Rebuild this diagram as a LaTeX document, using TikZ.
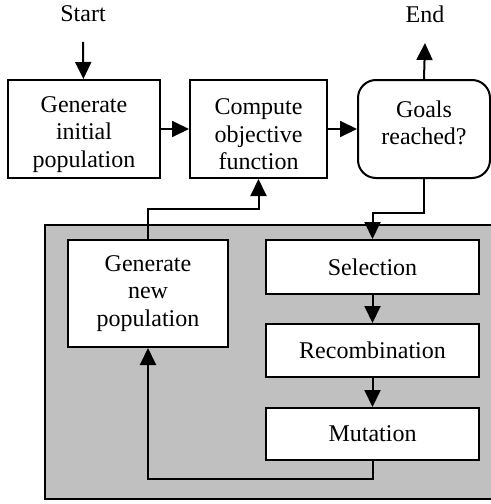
\documentclass[tikz,border=0pt]{standalone}
\usepackage{fontspec}
\setmainfont{Liberation Serif}
\usetikzlibrary{arrows.meta}
\usetikzlibrary{positioning}
\definecolor{panelgray}{RGB}{192,192,192}
\tikzset{
   block/.style={draw=black, line width=1pt, fill=white, align=center,
      inner sep=0pt, font=\fontsize{12}{13.75}\selectfont},
   goalblock/.style={block, rounded corners=9pt},
   boxtext/.style={align=center, inner sep=0pt,
      font=\fontsize{12}{13.75}\selectfont},
   flow/.style={draw=black, line width=1pt,
      -{Triangle[length=8.5pt,width=8pt]}},
   caption/.style={font=\fontsize{12}{13.75}\selectfont, inner sep=0pt},
    }
\begin{document}
\begin{tikzpicture}[x=0.5pt,y=-0.5pt]
        \useasboundingbox (0,0) rectangle (491,504);
        % gray panel
        \fill[panelgray, draw=black, line width=1pt] (45,225) rectangle (495,499);
        % top row
        \node[caption] (start) at (83,14) {Start};
        \node[caption] (end) at (425,14) {End};
        \coordinate (sin) at (83,42);
        \coordinate (eout) at (425,43);
        \node[block, minimum width=76pt, minimum height=49pt,
            label={[name=initl, boxtext, yshift=-2.75pt]center:{Generate\\initial\\population}}]
            (init) at (84,129) {};
        \node[block, minimum width=68.5pt, minimum height=49pt,
            label={[name=compl, boxtext, yshift=-2.75pt]center:{Compute\\objective\\function}}]
            (comp) at (258.5,129) {};
        \node[goalblock, minimum width=66pt, minimum height=49pt,
            label={[name=goall, boxtext, yshift=3pt]center:{Goals\\reached?}}]
            (goal) at (424,129) {};
        % inner loop
        \node[block, minimum width=80pt, minimum height=53.5pt] (newpop) at (148,293.5)
            {Generate\\new\\population};
        \node[block, minimum width=106.5pt, minimum height=27pt] (sel) at (372.5,267)
            {Selection};
        \node[block, minimum width=106.5pt, minimum height=26.5pt] (rec) at (372.5,350.5)
            {Recombination};
        \node[block, minimum width=106.5pt, minimum height=26pt] (mut) at (372.5,434)
            {Mutation};
        % connectors
        \draw[flow] (sin) -- (init);
        \draw[flow] (init) -- (comp);
        \draw[flow] (comp) -- (goal);
        \draw[flow] (goal.north) -- (eout);
        \draw[flow] (goal.south) -- ++(0,34) -| (sel.north);
        \draw[flow] (sel) -- (rec);
        \draw[flow] (rec) -- (mut);
        \draw[flow] (mut.south) -- ++(0,18) -| (newpop.south);
        \draw[flow] (newpop.north) -- ++(0,-30) -| (comp.south);
\end{tikzpicture}
\end{document}
